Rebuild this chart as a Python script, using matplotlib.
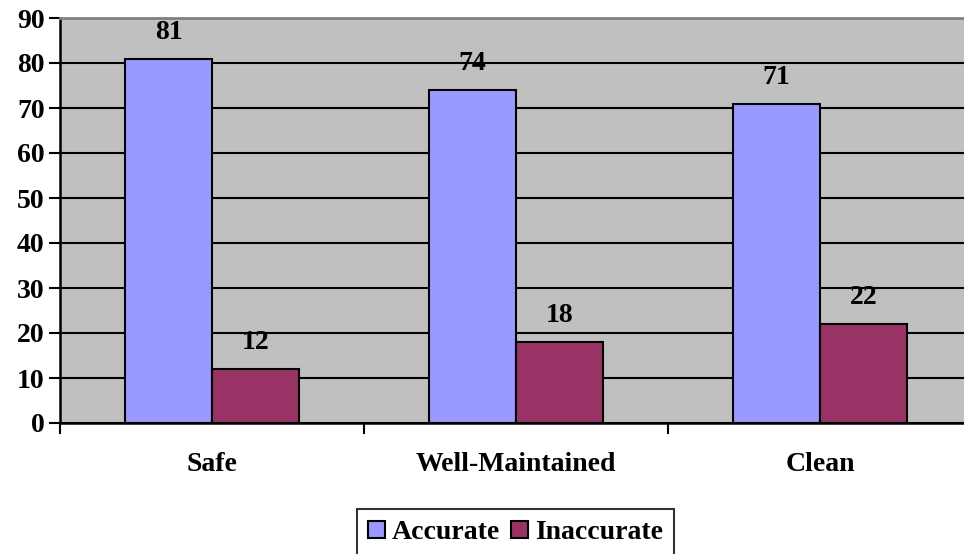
import numpy as np
import matplotlib
matplotlib.use("Agg")
from matplotlib import pyplot as plt
from matplotlib.ticker import FixedLocator, NullFormatter

categories = ["Safe", "Well-Maintained", "Clean"]
accurate = [81, 74, 71]
inaccurate = [12, 18, 22]
series_names = ["Accurate", "Inaccurate"]
y_ticks = [0, 10, 20, 30, 40, 50, 60, 70, 80, 90]

plt.rcParams["font.family"] = ["Liberation Serif", "DejaVu Serif"]
plt.rcParams["font.weight"] = "bold"

fig = plt.figure(figsize=(9.64, 5.54), dpi=100)
ax = fig.add_axes([60 / 964, 131 / 554, 912 / 964, 405 / 554])
ax.set_facecolor("#C0C0C0")

x = np.arange(len(categories))
w = 1 / 3.5  # gap width 150%
b1 = ax.bar(x - w / 2, accurate, w, color="#9999FF", edgecolor="black", linewidth=1.5,
            label=series_names[0], zorder=3)
b2 = ax.bar(x + w / 2, inaccurate, w, color="#993366", edgecolor="black", linewidth=1.5,
            label=series_names[1], zorder=3)

# value labels above each bar
for bars, vals in ((b1, accurate), (b2, inaccurate)):
    for r, v in zip(bars, vals):
        ax.annotate(str(v), (r.get_x() + r.get_width() / 2, v), xytext=(0, 19),
                    textcoords="offset points", ha="center", va="center",
                    fontsize=20, fontweight="bold", zorder=4)

ax.set_xlim(-0.5, 2.5)
ax.set_ylim(0, 90)
ax.set_yticks(y_ticks)
ax.yaxis.grid(True, color="black", linewidth=1.5, zorder=1)
ax.set_axisbelow(True)

# category labels centred, tick marks at the category boundaries
ax.xaxis.set_major_locator(FixedLocator(np.arange(-0.5, 3, 1)))
ax.xaxis.set_major_formatter(NullFormatter())
ax.xaxis.set_minor_locator(FixedLocator(x))
ax.set_xticklabels(categories, minor=True)
ax.tick_params(axis="x", which="minor", length=0, pad=21, labelsize=20)
ax.tick_params(axis="x", which="major", length=8, width=1.5, direction="out")
ax.tick_params(axis="y", length=8, width=1.5, labelsize=20, pad=3)

for s in ("left", "bottom"):
    ax.spines[s].set_linewidth(1.8)
    ax.spines[s].set_color("black")
ax.spines["top"].set_color("#808080")
ax.spines["top"].set_linewidth(2)
ax.spines["right"].set_visible(False)

leg = fig.legend(handles=[b1, b2], labels=series_names, loc="upper left",
                 bbox_to_anchor=(357 / 964, 1 - 509 / 554), ncol=2, frameon=True,
                 fancybox=False, edgecolor="black", fontsize=20, handlelength=0.6,
                 handleheight=0.6, handletextpad=0.25, columnspacing=0.4,
                 borderpad=0.4, borderaxespad=0)
leg.get_frame().set_linewidth(1.5)

fig.savefig("out.png", dpi=100)
